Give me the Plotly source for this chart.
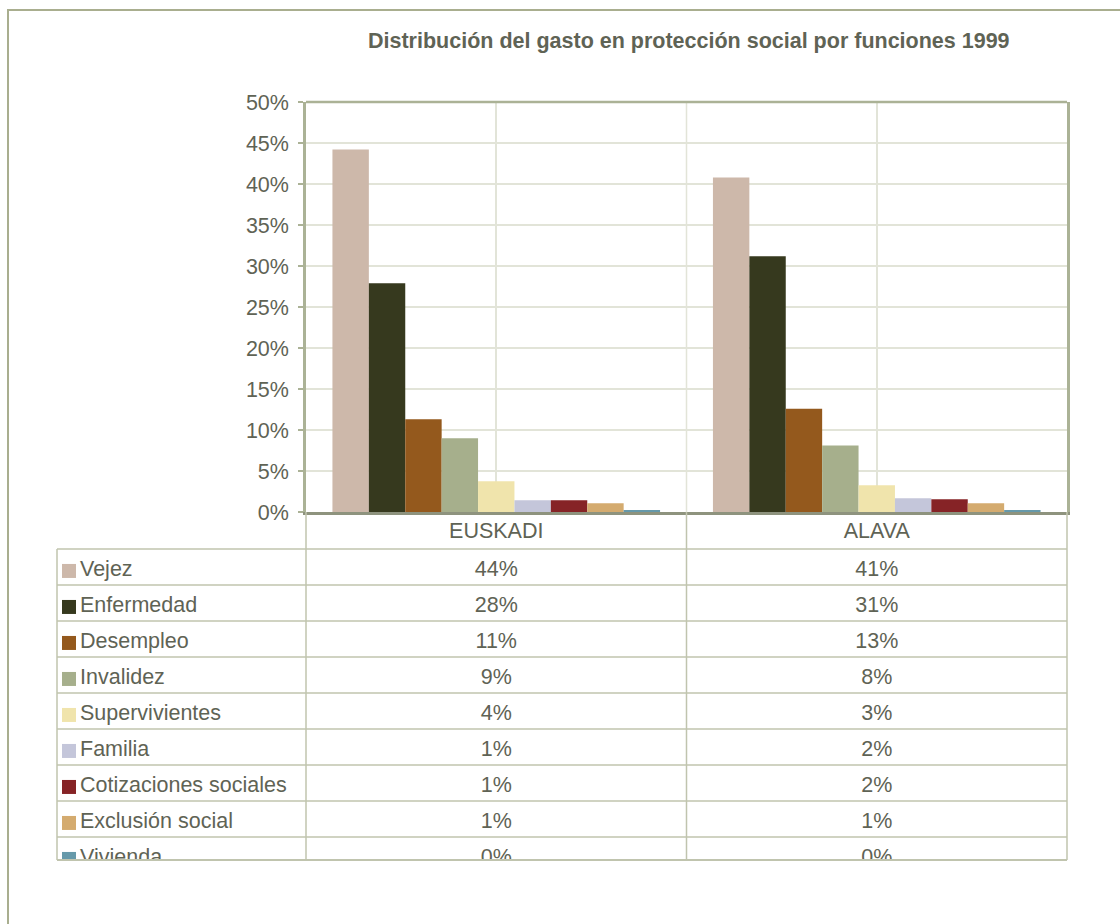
import plotly.graph_objects as go

# ---------------- data ----------------
regions = ["EUSKADI", "ALAVA"]
functions = ["Vejez", "Enfermedad", "Desempleo", "Invalidez", "Supervivientes",
             "Familia", "Cotizaciones sociales", "Exclusión social", "Vivienda"]
euskadi = [44.2, 27.9, 11.3, 9.0, 3.74, 1.43, 1.43, 1.06, 0.2]
alava = [40.8, 31.2, 12.6, 8.1, 3.25, 1.67, 1.55, 1.06, 0.2]
colors = ["#CDB8AA", "#36391E", "#94591D", "#A6AF8C", "#F0E4AC",
          "#C4C6DA", "#862326", "#D4AB6F", "#6699AA"]
title = "Distribución del gasto en protección social por funciones 1999"
y_ticks = [0, 5, 10, 15, 20, 25, 30, 35, 40, 45, 50]

# ---------------- layout helpers ----------------
W, H = 1120, 924
def px(x):
    return x / W
def py(y):
    return 1 - y / H

TXT = "#5F6355"
FONT = "Arial, Liberation Sans, sans-serif"
FS = 21.5
GRID = "#E2E4D8"
FRAME = "#ABB296"
TABLE = "#C0C4AE"

# plot area
PL, PR, PT, PB = 306, 1067, 102, 512
# table
TL, TB = 57, 860
ROW0, ROWH = 567, 36  # centre of first row, row height
ROW_DY = 0.11          # text baseline offset inside rows
HEAD_DY = 0.05

series = {r: v for r, v in zip(regions, [euskadi, alava])}

fig = go.Figure()
for i, f in enumerate(functions):
    fig.add_trace(go.Bar(
        x=regions, y=[series[r][i] for r in regions], name=f,
        marker=dict(color=colors[i], line=dict(width=0)),
        xaxis="x", yaxis="y", showlegend=False, hoverinfo="skip"))

# table rows (data table under the chart)
rows = list(range(len(functions)))
trow = [k + ROW_DY for k in rows]
fig.add_trace(go.Scatter(
    x=[TL + 12] * len(functions), y=trow, mode="markers",
    marker=dict(symbol="square", size=14, color=colors, line=dict(width=0)),
    xaxis="x2", yaxis="y2", showlegend=False, hoverinfo="skip"))
fig.add_trace(go.Scatter(
    x=[TL + 23] * len(functions), y=trow, mode="text", text=functions,
    textposition="middle right", textfont=dict(family=FONT, size=FS, color=TXT),
    xaxis="x2", yaxis="y2", showlegend=False, hoverinfo="skip"))

col_w = (PR - PL) / len(regions)
for j, r in enumerate(regions):
    cx = PL + col_w * (j + 0.5)
    fig.add_trace(go.Scatter(
        x=[cx] * (len(functions) + 1), y=[-1 + HEAD_DY] + trow, mode="text",
        text=[r] + [f"{v:.0f}%" for v in series[r]],
        textposition="middle center", textfont=dict(family=FONT, size=FS, color=TXT),
        xaxis="x2", yaxis="y2", showlegend=False, hoverinfo="skip"))

shapes = []
# outer chart frame
shapes.append(dict(type="rect", xref="paper", yref="paper",
                   x0=px(8), x1=1.05, y0=-0.05, y1=py(10),
                   line=dict(color="#A9AE8F", width=2)))
# plot area top border
shapes.append(dict(type="line", xref="paper", yref="paper",
                   x0=px(PL), x1=px(PR), y0=py(PT), y1=py(PT),
                   line=dict(color=FRAME, width=2.5)))
# gridline at category boundary
shapes.append(dict(type="line", xref="x", yref="paper", x0=0.5, x1=0.5,
                   y0=py(PB), y1=py(PT), line=dict(color=GRID, width=1.5), layer="below"))
# table horizontal lines
for k in range(len(functions)):
    shapes.append(dict(type="line", xref="paper", yref="y2",
                       x0=px(TL), x1=px(PR), y0=k - 0.5, y1=k - 0.5,
                       line=dict(color=TABLE, width=1.5)))
shapes.append(dict(type="line", xref="paper", yref="paper",
                   x0=px(TL), x1=px(PR), y0=py(TB), y1=py(TB),
                   line=dict(color=TABLE, width=2)))
# table vertical lines
for xv in [PL, PL + col_w, PR]:
    shapes.append(dict(type="line", xref="paper", yref="paper",
                       x0=px(xv), x1=px(xv), y0=py(TB), y1=py(PB),
                       line=dict(color=TABLE, width=1.5)))
shapes.append(dict(type="line", xref="paper", yref="paper",
                   x0=px(TL), x1=px(TL), y0=py(TB), y1=py(ROW0 - ROWH / 2),
                   line=dict(color=TABLE, width=1.5)))

top_v = (PB - ROW0) / ROWH
bot_v = (TB - ROW0) / ROWH

fig.update_layout(
    width=W, height=H, autosize=False,
    margin=dict(l=0, r=0, t=0, b=0, pad=0, autoexpand=False),
    paper_bgcolor="white", plot_bgcolor="white",
    barmode="group", bargap=0.139, bargroupgap=0,
    font=dict(family=FONT, color=TXT, size=FS),
    xaxis=dict(domain=[px(PL), px(PR)], anchor="y", range=[-0.5, 1.5],
               showgrid=True, gridcolor=GRID, gridwidth=1.5, automargin=False,
               showticklabels=False, ticks="",
               showline=True, linecolor="#8E937E", linewidth=2.5, zeroline=False),
    yaxis=dict(domain=[py(PB), py(PT)], anchor="x", range=[0, 50], automargin=False,
               tickvals=y_ticks, ticktext=[f"{t}%" for t in y_ticks],
               showgrid=True, gridcolor=GRID, gridwidth=1.5,
               ticks="outside", ticklen=5, tickcolor=FRAME, tickwidth=1.5,
               ticklabelstandoff=5,
               tickfont=dict(family=FONT, size=FS, color=TXT),
               showline=True, mirror=True, linecolor=FRAME, linewidth=2.5,
               zeroline=False),
    xaxis2=dict(domain=[px(TL), px(PR)], anchor="y2", range=[TL, PR], automargin=False,
                showgrid=False, zeroline=False, showticklabels=False, showline=False),
    yaxis2=dict(domain=[py(TB), py(PB)], anchor="x2", range=[bot_v, top_v], automargin=False,
                showgrid=False, zeroline=False, showticklabels=False, showline=False),
    shapes=shapes,
    annotations=[dict(text=f"<b>{title}</b>", xref="paper", yref="paper",
                      x=px(689), y=py(41), xanchor="center", yanchor="middle",
                      showarrow=False, font=dict(family=FONT, size=FS, color=TXT))],
)

fig.write_html("out.html", config={"displayModeBar": False},
               post_script="document.body.style.margin='0';")
